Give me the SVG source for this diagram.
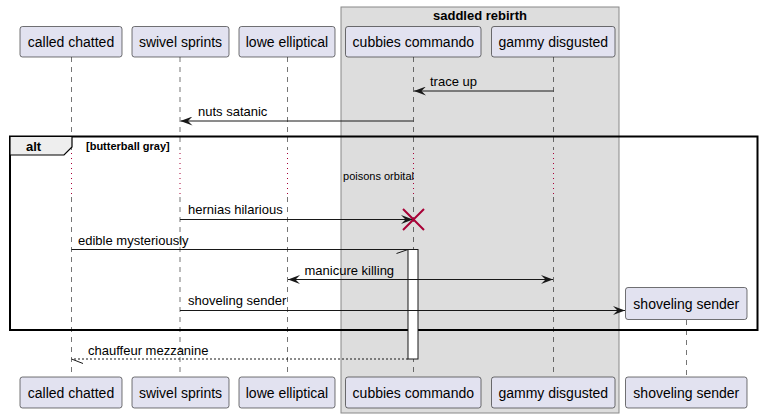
<svg xmlns="http://www.w3.org/2000/svg" width="762" height="418" viewBox="0 0 762 418">
<style>
text{font-family:"Liberation Sans",Arial,sans-serif;fill:#000}
.p rect{fill:#E2E2F0;stroke:#181818;stroke-width:0.6}
.p text{font-size:14px;text-anchor:middle}
.life{stroke:#181818;stroke-width:0.6;stroke-dasharray:5,5;fill:none}
.delay{stroke:#A80036;stroke-width:1;stroke-dasharray:1,4;fill:none}
.msg{stroke:#181818;stroke-width:1;fill:none}
.lbl{font-size:13px}
</style>
<defs>
<marker id="ah" viewBox="0 0 12 9" refX="12" refY="4.5" markerWidth="12" markerHeight="9" markerUnits="userSpaceOnUse" orient="auto-start-reverse">
<path d="M0,0 L12,4.5 L0,9 L4.5,4.5 Z" fill="#181818"/>
</marker>
</defs>
<g id="box-saddled-rebirth">
<rect x="341" y="7" width="278" height="406" fill="#DDDDDD" stroke="#888888" stroke-width="1"/>
<text x="480" y="19.5" style="font-size:13px;font-weight:bold;text-anchor:middle">saddled rebirth</text>
</g>
<g id="lifelines">
<path class="life" d="M71.5,57 V150 M71.5,197 V377"/>
<path class="delay" d="M71.5,153 V196"/>
<path class="life" d="M180,57 V150 M180,197 V377"/>
<path class="delay" d="M180,153 V196"/>
<path class="life" d="M287.5,57 V150 M287.5,197 V377"/>
<path class="delay" d="M287.5,153 V196"/>
<path class="life" d="M413.5,57 V150 M413.5,197 V377"/>
<path class="delay" d="M413.5,153 V196"/>
<path class="life" d="M553.5,57 V150 M553.5,197 V377"/>
<path class="delay" d="M553.5,153 V196"/>
<path class="life" d="M686.5,320 V377"/>
</g>
<g id="alt-frame">
<rect x="10" y="136.5" width="747.5" height="193.5" fill="none" stroke="#000" stroke-width="2"/>
<path d="M10,136.5 H72 V147 L64,155 H10 Z" fill="#EEEEEE" stroke="#000" stroke-width="1.2"/>
<text x="26" y="150.5" style="font-size:13px;font-weight:bold">alt</text>
<text x="86" y="149.5" style="font-size:11px;font-weight:bold">[butterball gray]</text>
<text x="378.5" y="180" style="font-size:11px;text-anchor:middle">poisons orbital</text>
</g>
<g id="activation">
<rect x="408" y="249.5" width="10" height="109.5" fill="#FFFFFF" stroke="#181818" stroke-width="1"/>
</g>
<g id="participants">
<g id="p-called-chatted" class="p"><rect x="20" y="26.5" width="102" height="30.5" rx="2.5"/><text x="71" y="47">called chatted</text>
<rect x="20" y="377" width="102" height="31" rx="2.5"/><text x="71" y="397.5">called chatted</text></g>
<g id="p-swivel-sprints" class="p"><rect x="132" y="26.5" width="97" height="30.5" rx="2.5"/><text x="180.5" y="47">swivel sprints</text>
<rect x="132" y="377" width="97" height="31" rx="2.5"/><text x="180.5" y="397.5">swivel sprints</text></g>
<g id="p-lowe-elliptical" class="p"><rect x="239" y="26.5" width="96" height="30.5" rx="2.5"/><text x="287" y="47">lowe elliptical</text>
<rect x="239" y="377" width="96" height="31" rx="2.5"/><text x="287" y="397.5">lowe elliptical</text></g>
<g id="p-cubbies-commando" class="p"><rect x="345.5" y="26.5" width="135.5" height="30.5" rx="2.5"/><text x="413.3" y="47">cubbies commando</text>
<rect x="345.5" y="377" width="135.5" height="31" rx="2.5"/><text x="413.3" y="397.5">cubbies commando</text></g>
<g id="p-gammy-disgusted" class="p"><rect x="491.5" y="26.5" width="123.5" height="30.5" rx="2.5"/><text x="553.3" y="47">gammy disgusted</text>
<rect x="491.5" y="377" width="123.5" height="31" rx="2.5"/><text x="553.3" y="397.5">gammy disgusted</text></g>
<g id="p-shoveling-sender" class="p"><rect x="625.5" y="287.5" width="121.5" height="32" rx="2.5"/><text x="686.3" y="308.5">shoveling sender</text>
<rect x="625.5" y="377" width="121.5" height="31" rx="2.5"/><text x="686.3" y="397.5">shoveling sender</text></g>
</g>
<g id="connectors">
<line class="msg" x1="553.5" y1="91" x2="414" y2="91" marker-end="url(#ah)"/>
<text class="lbl" x="430" y="86">trace up</text>
<line class="msg" x1="413.5" y1="121" x2="180.5" y2="121" marker-end="url(#ah)"/>
<text class="lbl" x="198" y="116">nuts satanic</text>
<line class="msg" x1="180" y1="219.5" x2="413" y2="219.5" marker-end="url(#ah)"/>
<text class="lbl" x="188" y="214">hernias hilarious</text>
<path d="M403,209 L424,230 M424,209 L403,230" stroke="#A80036" stroke-width="2" fill="none"/>
<path class="msg" d="M71.5,249.5 H408 M408,249.5 L396.5,253.5"/>
<text class="lbl" x="78" y="245">edible mysteriously</text>
<line class="msg" x1="288" y1="279.5" x2="553" y2="279.5" marker-start="url(#ah)" marker-end="url(#ah)"/>
<text class="lbl" x="304.5" y="275">manicure killing</text>
<line class="msg" x1="180" y1="310.5" x2="625" y2="310.5" marker-end="url(#ah)"/>
<text class="lbl" x="188" y="305">shoveling sender</text>
<path class="msg" d="M408,359 H72" stroke-dasharray="2,2"/>
<path class="msg" d="M71.5,359 L83,363.5"/>
<text class="lbl" x="88" y="355">chauffeur mezzanine</text>
</g>
</svg>
